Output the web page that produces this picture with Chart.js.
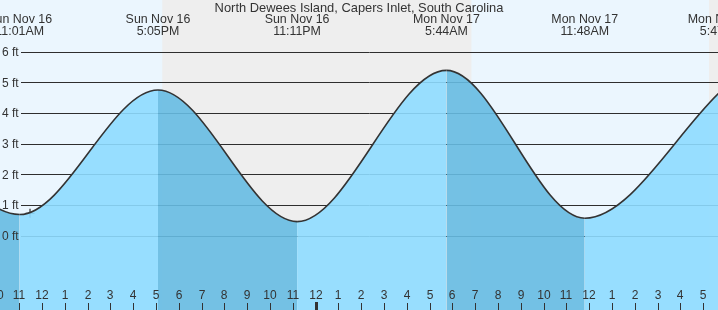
<!DOCTYPE html>
<html><head><meta charset="utf-8">
<script src="https://cdn.jsdelivr.net/npm/chart.js@4.4.0/dist/chart.umd.min.js"></script>
<style>html,body{margin:0;padding:0;background:#fff}#wrap{width:718px;height:310px;position:relative}canvas{display:block}</style>
</head><body><div id="wrap"><canvas id="c" width="718" height="310"></canvas></div>
<script>
const chartTitle = 'North Dewees Island, Capers Inlet, South Carolina';
// hours counted from Sun Nov 16 00:00
const tideTimes = [4.83, 11.017, 17.083, 23.183, 29.733, 35.8, 41.783];
const tideHeights = [5.2, 0.69, 4.75, 0.46, 5.39, 0.57, 4.72];
const extremeHours = [11.017, 17.083, 23.183, 29.733, 35.8, 41.783];
const extremeDays = ['Sun Nov 16', 'Sun Nov 16', 'Sun Nov 16', 'Mon Nov 17', 'Mon Nov 17', 'Mon Nov 17'];
const extremeTimes = ['11:01AM', '5:05PM', '11:11PM', '5:44AM', '11:48AM', '5:47PM'];
const yTickValues = [0, 1, 2, 3, 4, 5, 6];
const yTickLabels = ['0 ft', '1 ft', '2 ft', '3 ft', '4 ft', '5 ft', '6 ft'];
const hourTicks = [10, 11, 12, 13, 14, 15, 16, 17, 18, 19, 20, 21, 22, 23, 24, 25, 26, 27, 28, 29, 30, 31, 32, 33, 34, 35, 36, 37, 38, 39, 40, 41];
const hourLabels = ['10', '11', '12', '1', '2', '3', '4', '5', '6', '7', '8', '9', '10', '11', '12', '1', '2', '3', '4', '5', '6', '7', '8', '9', '10', '11', '12', '1', '2', '3', '4', '5'];
const midnightHours = [24];
const nightStarts = [17.27, 41.25];
const nightEnds = [30.83, 45];
const nowTimes = [11.47];
const nowHeights = [0.73];
const xRange = [10.1535, 41.645];
const yRange = [-2.423, 7.685];

const LIGHT = 'rgba(142,219,255,0.9)';
const DARK = 'rgba(102,187,226,0.9)';
const TXT = '#333333';
const FONT = '"Liberation Sans", Arial, sans-serif';

const deco = {
  id: 'deco',
  beforeDraw(chart) {
    const {ctx, chartArea: a, scales: {x}} = chart;
    ctx.save();
    ctx.fillStyle = '#EBF6FE';
    ctx.fillRect(a.left, a.top, a.right - a.left, a.bottom - a.top);
    ctx.fillStyle = '#EEEEEE';
    nightStarts.forEach((s, i) => {
      const x0 = Math.max(a.left, x.getPixelForValue(s));
      const x1 = Math.min(a.right, x.getPixelForValue(nightEnds[i]));
      if (x1 > x0) ctx.fillRect(x0, a.top, x1 - x0, a.bottom - a.top);
    });
    ctx.restore();
  },
  beforeDatasetsDraw(chart) {
    const {ctx, chartArea: a, scales: {y}} = chart;
    ctx.save();
    ctx.strokeStyle = '#2e2e2e';
    ctx.lineWidth = 1;
    yTickValues.forEach(v => {
      const py = Math.round(y.getPixelForValue(v)) + 0.5;
      ctx.beginPath();
      ctx.moveTo(21, py);
      ctx.lineTo(a.right, py);
      ctx.stroke();
    });
    ctx.restore();
  },
  afterDatasetsDraw(chart) {
    const {ctx, chartArea: a, scales: {x, y}} = chart;
    ctx.save();
    ctx.fillStyle = TXT;
    // y labels
    ctx.font = '12px ' + FONT;
    ctx.textAlign = 'left';
    ctx.textBaseline = 'middle';
    yTickValues.forEach((v, i) => {
      ctx.fillText(yTickLabels[i], 2, y.getPixelForValue(v) + 1);
    });
    // title
    ctx.font = '12.9px ' + FONT;
    ctx.textAlign = 'center';
    ctx.fillText(chartTitle, (a.left + a.right) / 2, 8);
    // extreme labels
    ctx.font = '12.4px ' + FONT;
    extremeHours.forEach((h, i) => {
      const px = x.getPixelForValue(h);
      ctx.fillText(extremeDays[i], px, 20);
      ctx.fillText(extremeTimes[i], px, 32);
    });
    // hour ticks
    ctx.font = '12px ' + FONT;
    hourTicks.forEach((h, i) => {
      const px = Math.round(x.getPixelForValue(h));
      ctx.fillText(hourLabels[i], px, 296);
      if (midnightHours.includes(h)) ctx.fillRect(px - 1, 302, 3, 8);
      else ctx.fillRect(px, 303, 1, 7);
    });
    ctx.restore();
  }
};

new Chart(document.getElementById('c'), {
  type: 'line',
  data: {
    datasets: [{
      data: tideTimes.map((t, i) => ({x: t, y: tideHeights[i]})),
      borderColor: '#333333',
      borderWidth: 1.6,
      pointRadius: 0,
      cubicInterpolationMode: 'monotone',
      fill: 'start',
      backgroundColor: LIGHT,
      segment: {
        backgroundColor: c => c.p1.parsed.y < c.p0.parsed.y ? DARK : LIGHT
      }
    }, {
      data: nowTimes.map((t, i) => ({x: t, y: nowHeights[i]})),
      showLine: false,
      pointStyle: 'cross',
      pointRadius: 4.5,
      borderColor: '#333333',
      borderWidth: 1.2,
      backgroundColor: '#333333'
    }]
  },
  options: {
    responsive: false,
    animation: false,
    layout: {padding: 0, autoPadding: false},
    scales: {
      x: {type: 'linear', min: xRange[0], max: xRange[1], display: false},
      y: {min: yRange[0], max: yRange[1], display: false}
    },
    plugins: {legend: {display: false}, tooltip: {enabled: false}, title: {display: false}}
  },
  plugins: [deco]
});
</script>
</body></html>
